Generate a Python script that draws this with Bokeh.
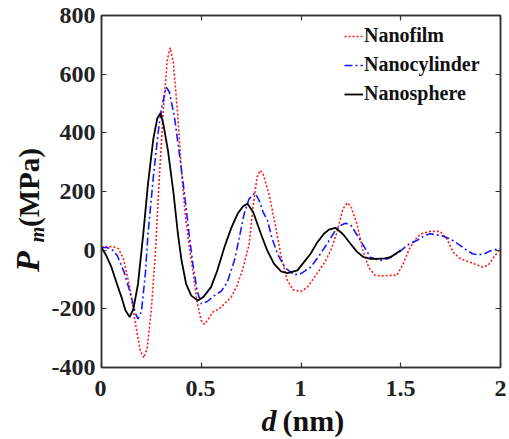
import math
from bokeh.plotting import figure
from bokeh.layouts import column, row
from bokeh.core.properties import value
from bokeh.models import Range1d, LinearAxis, Legend, LegendItem, FixedTicker, CustomJSTickFormatter
from bokeh.embed import file_html
from bokeh.resources import INLINE

film_d = [0, 0.03, 0.06, 0.085, 0.11, 0.14, 0.17, 0.195, 0.213, 0.23, 0.25, 0.27, 0.29, 0.31, 0.33, 0.344, 0.36, 0.38, 0.40, 0.42, 0.44, 0.46, 0.48, 0.50, 0.516, 0.535, 0.56, 0.59, 0.62, 0.65, 0.68, 0.71, 0.74, 0.76, 0.78, 0.795, 0.81, 0.84, 0.87, 0.90, 0.93, 0.96, 0.998, 1.03, 1.06, 1.09, 1.12, 1.15, 1.18, 1.21, 1.231, 1.25, 1.28, 1.31, 1.34, 1.37, 1.40, 1.44, 1.48, 1.51, 1.54, 1.57, 1.60, 1.647, 1.697, 1.73, 1.764, 1.80, 1.85, 1.89, 1.913, 1.94, 1.97, 2.0]
film_p = [10, 12, 12, 5, -30, -120, -250, -345, -367, -330, -200, -10, 250, 480, 650, 690, 640, 480, 280, 120, 10, -80, -180, -240, -253, -235, -210, -200, -180, -160, -120, -60, 20, 150, 250, 272, 260, 190, 90, -20, -100, -135, -141, -128, -100, -70, -40, 0, 60, 140, 161, 150, 90, 0, -60, -85, -88, -86, -86, -50, 0, 35, 55, 64, 64, 40, -8, -30, -42, -52, -58, -50, -20, 5]

cyl_d = [0, 0.03, 0.05, 0.08, 0.116, 0.15, 0.17, 0.183, 0.20, 0.22, 0.233, 0.26, 0.283, 0.30, 0.324, 0.34, 0.366, 0.39, 0.416, 0.44, 0.458, 0.48, 0.50, 0.53, 0.566, 0.60, 0.63, 0.666, 0.69, 0.715, 0.74, 0.769, 0.79, 0.81, 0.832, 0.855, 0.882, 0.92, 0.965, 1.0, 1.048, 1.09, 1.131, 1.17, 1.20, 1.223, 1.25, 1.298, 1.348, 1.398, 1.44, 1.498, 1.54, 1.58, 1.62, 1.647, 1.70, 1.747, 1.79, 1.83, 1.86, 1.889, 1.92, 1.947, 1.975, 2.0]
cyl_p = [10, 8, 5, -20, -80, -160, -215, -234, -210, -80, 55, 250, 396, 480, 556, 540, 453, 330, 192, 50, -47, -140, -183, -175, -155, -140, -110, -35, 40, 124, 175, 195, 170, 130, 101, 40, -12, -60, -84, -80, -58, -20, 22, 65, 85, 92, 85, 33, -24, -35, -28, -3, 20, 33, 50, 56, 50, 39, 20, 0, -12, -16, -12, -3, 2, 5]

sph_d = [0, 0.025, 0.05, 0.075, 0.10, 0.12, 0.141, 0.16, 0.183, 0.21, 0.233, 0.26, 0.28, 0.296, 0.31, 0.333, 0.36, 0.383, 0.40, 0.424, 0.45, 0.483, 0.51, 0.549, 0.58, 0.616, 0.65, 0.682, 0.71, 0.732, 0.76, 0.799, 0.83, 0.865, 0.90, 0.932, 0.982, 1.01, 1.048, 1.08, 1.115, 1.14, 1.173, 1.21, 1.248, 1.28, 1.314, 1.35, 1.381, 1.42, 1.448, 1.475, 1.5]
sph_p = [10, -20, -58, -110, -160, -205, -228, -200, -115, 60, 226, 380, 450, 468, 430, 340, 200, 56, -30, -115, -155, -172, -160, -126, -70, 10, 75, 124, 150, 158, 130, 56, 0, -47, -72, -78, -69, -45, -12, 25, 56, 70, 76, 55, 22, -5, -24, -30, -30, -28, -24, -12, 0]

x_ticks = [0, 0.5, 1, 1.5, 2]
x_tick_labels = ["0", "0.5", "1", "1.5", "2"]
y_ticks = [-400, -200, 0, 200, 400, 600, 800]
series_names = ["Nanofilm", "Nanocylinder", "Nanosphere"]

FONT = "Liberation Serif"
TXT = "#111111"
LEFT_W = 48
BOTTOM_PAD = 11
TOP_H = 15 + 352 + BOTTOM_PAD   # top border + frame + bottom border
BOT_H = 439 - TOP_H
PX_PER_NM = 200.0               # 400 px frame / 2 nm

p = figure(width=461, height=TOP_H, output_backend="svg", toolbar_location=None,
           x_range=Range1d(0, 2), y_range=Range1d(-400, 800),
           min_border_left=52, min_border_right=9, min_border_top=15,
           min_border_bottom=BOTTOM_PAD,
           x_axis_location=None, y_axis_location=None)
p.background_fill_color = "white"
p.border_fill_color = "white"
p.grid.visible = False
p.outline_line_color = "#333333"
p.outline_line_width = 1.5

def style_axis(ax, ticks, show_labels):
    ax.ticker = FixedTicker(ticks=ticks)
    ax.minor_tick_line_color = None
    ax.major_tick_in = 5
    ax.major_tick_out = 0
    ax.major_tick_line_color = "#333333"
    ax.major_tick_line_width = 1.2
    ax.axis_line_color = "#333333"
    ax.axis_line_width = 1.5
    ax.major_label_text_font = FONT
    ax.major_label_text_font_style = "bold"
    ax.major_label_text_color = "#222222"
    if show_labels:
        ax.major_label_text_font_size = "24px"
        ax.formatter = CustomJSTickFormatter(code="return String(tick)")
    else:
        ax.major_label_text_font_size = "1px"
        ax.formatter = CustomJSTickFormatter(code="return ''")
        ax.major_label_standoff = 0

yl = LinearAxis(); style_axis(yl, y_ticks, True); yl.major_label_standoff = 6
xb = LinearAxis(); style_axis(xb, x_ticks, False)
xt = LinearAxis(); style_axis(xt, x_ticks, False)
yr = LinearAxis(); style_axis(yr, y_ticks, False)
p.add_layout(xb, "below")
p.add_layout(yl, "left")
p.add_layout(xt, "above")
p.add_layout(yr, "right")

r_film = p.line(film_d, film_p, line_color="#ff1a1a", line_width=1.6, line_dash="2 2")
r_cyl = p.line(cyl_d, cyl_p, line_color="#1a1aff", line_width=1.6, line_dash="8 3 2 3")
r_sph = p.line(sph_d, sph_p, line_color="black", line_width=1.8)

legend = Legend(items=[LegendItem(label=series_names[0], renderers=[r_film]),
                       LegendItem(label=series_names[1], renderers=[r_cyl]),
                       LegendItem(label=series_names[2], renderers=[r_sph])],
                location=(243, 262))
legend.border_line_color = None
legend.background_fill_alpha = 0
legend.label_text_font = FONT
legend.label_text_font_style = "bold"
legend.label_text_font_size = "20px"
legend.label_text_color = TXT
legend.glyph_width = 19
legend.glyph_height = 20
legend.label_height = 20
legend.label_standoff = 1
legend.spacing = 6
legend.padding = 0
legend.margin = 0
p.add_layout(legend)

def text_fig(w, h, xr, yr_):
    f = figure(title=None, frame_width=w, frame_height=h, output_backend="svg",
               toolbar_location=None, x_range=xr, y_range=yr_,
               min_border=0, min_border_left=0, min_border_right=0,
               min_border_top=0, min_border_bottom=0,
               x_axis_location=None, y_axis_location=None)
    f.outline_line_color = None
    f.background_fill_color = "white"
    f.border_fill_color = "white"
    for g in f.grid:
        g.visible = False
    return f

# y-axis label: "P_m (MPa)" rotated, each piece anchored at its centre
ang = math.pi / 2
fy = text_fig(LEFT_W, TOP_H, Range1d(0, LEFT_W), Range1d(0, TOP_H))
fy.text(x=[27], y=[TOP_H - 246], text=["P"], angle=ang, text_font=value(FONT),
        text_font_style="bold italic", text_font_size="34px", text_align="center",
        text_baseline="middle", text_color=TXT)
fy.text(x=[36], y=[TOP_H - 219], text=["m"], angle=ang, text_font=value(FONT),
        text_font_style="bold italic", text_font_size="20px", text_align="center",
        text_baseline="middle", text_color=TXT)
fy.text(x=[28], y=[TOP_H - 172], text=["(MPa)"], angle=ang, text_font=value(FONT),
        text_font_style="bold", text_font_size="29px", text_align="center",
        text_baseline="middle", text_color=TXT)

# bottom strip: x tick labels + "d (nm)"; x in nm aligned with the main frame, y = px from strip top
shift = TOP_H - 370
x0 = -(LEFT_W + 52) / PX_PER_NM
x1 = x0 + 509 / PX_PER_NM
fx = text_fig(509, BOT_H, Range1d(x0, x1), Range1d(BOT_H, 0))
fx.text(x=x_ticks, y=[18 - shift] * len(x_ticks), text=x_tick_labels, text_font=value(FONT),
        text_font_style="bold", text_font_size="24px", text_align="center",
        text_baseline="alphabetic", text_color="#222222")
fx.text(x=[0.88], y=[50 - shift], text=["d"], text_font=value(FONT),
        text_font_style="bold italic", text_font_size="30px", text_align="right",
        text_baseline="alphabetic", text_color=TXT)
fx.text(x=[0.91], y=[50 - shift], text=["(nm)"], text_font=value(FONT),
        text_font_style="bold", text_font_size="30px", text_align="left",
        text_baseline="alphabetic", text_color=TXT)

layout = column(row(fy, p, spacing=0), fx, spacing=0)
open("out.html", "w").write(file_html(layout, INLINE))
